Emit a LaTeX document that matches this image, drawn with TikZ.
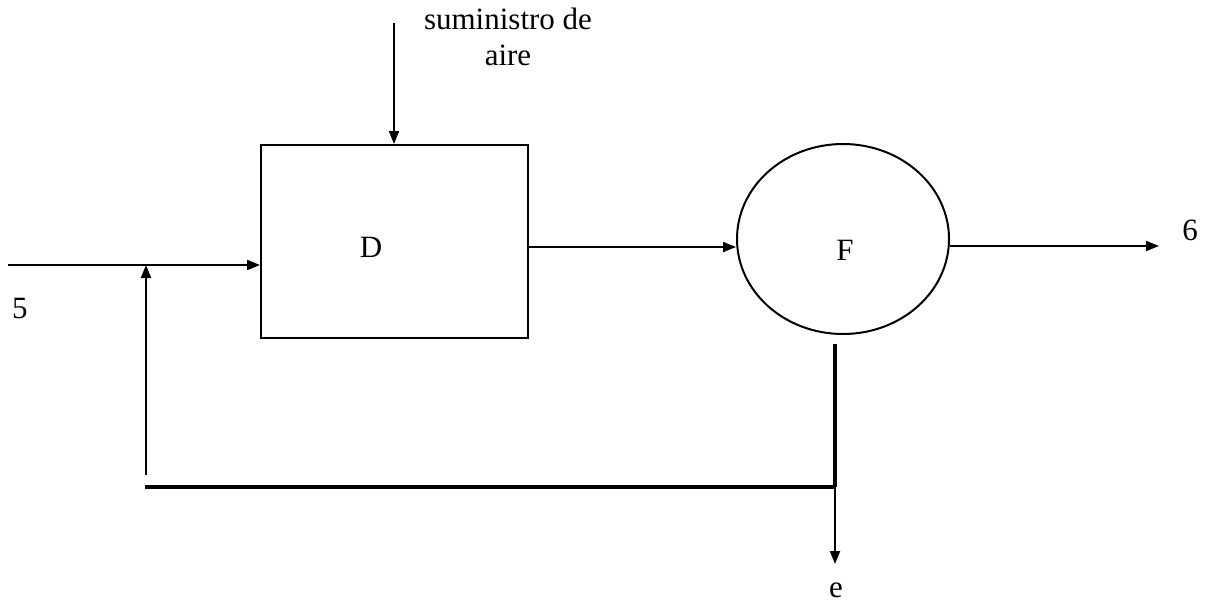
\documentclass[tikz,border=0pt]{standalone}
\usepackage{fontspec}
\setmainfont{Liberation Serif}
\usetikzlibrary{arrows.meta,shapes.geometric}
\begin{document}
\begin{tikzpicture}[x=1pt,y=-1pt,
  thinline/.style={line width=2pt},
  thickline/.style={line width=4pt},
  arr/.style={-{Triangle[length=13pt,width=10pt]}},
  lbl/.style={font=\fontsize{31}{36}\selectfont, inner sep=0pt}]
\useasboundingbox (0,0) rectangle (1212,608);
\node[draw, line width=2pt, minimum width=267pt, minimum height=193pt, inner sep=0pt] (D) at (394.5,241.5) {};
\node[lbl] at (371,247) {D};
\node[draw, ellipse, line width=2pt, minimum width=212pt, minimum height=190pt, inner sep=0pt] (F) at (843,239) {};
\node[lbl] at (845,250) {F};
% air supply
\coordinate (airtop) at (394,23);
\draw[thinline, arr] (airtop) -- (airtop |- D.north);
\node[lbl, align=center] (air) at (508,37) {suministro de\\aire};
% input 5
\coordinate (in5) at (8,265);
\draw[thinline, arr] (in5) -- (in5 -| D.west);
\node[lbl] (n5) at (20,308) {5};
% D to F
\coordinate (dfy) at (0,247);
\draw[thinline, arr] (D.east |- dfy) -- (F.west |- dfy);
% F to 6
\coordinate (out6) at (1159,246);
\draw[thinline, arr] (F.east |- out6) -- (out6);
\node[lbl] (n6) at (1190,230) {6};
% bottom outlet
\coordinate (ftop) at (835,344);
\coordinate (split) at (835,487);
\coordinate (eend) at (835,564);
\draw[thickline] (ftop) -- (split);
\draw[thinline, arr] (split) -- (eend);
\node[lbl] (ne) at (836,590) {e};
% recycle
\coordinate (rl) at (145,487);
\draw[thickline] (split) -- (rl);
\coordinate (rv) at (146,475);
\draw[thinline, arr] (rv) -- (rv |- in5);
\end{tikzpicture}
\end{document}
